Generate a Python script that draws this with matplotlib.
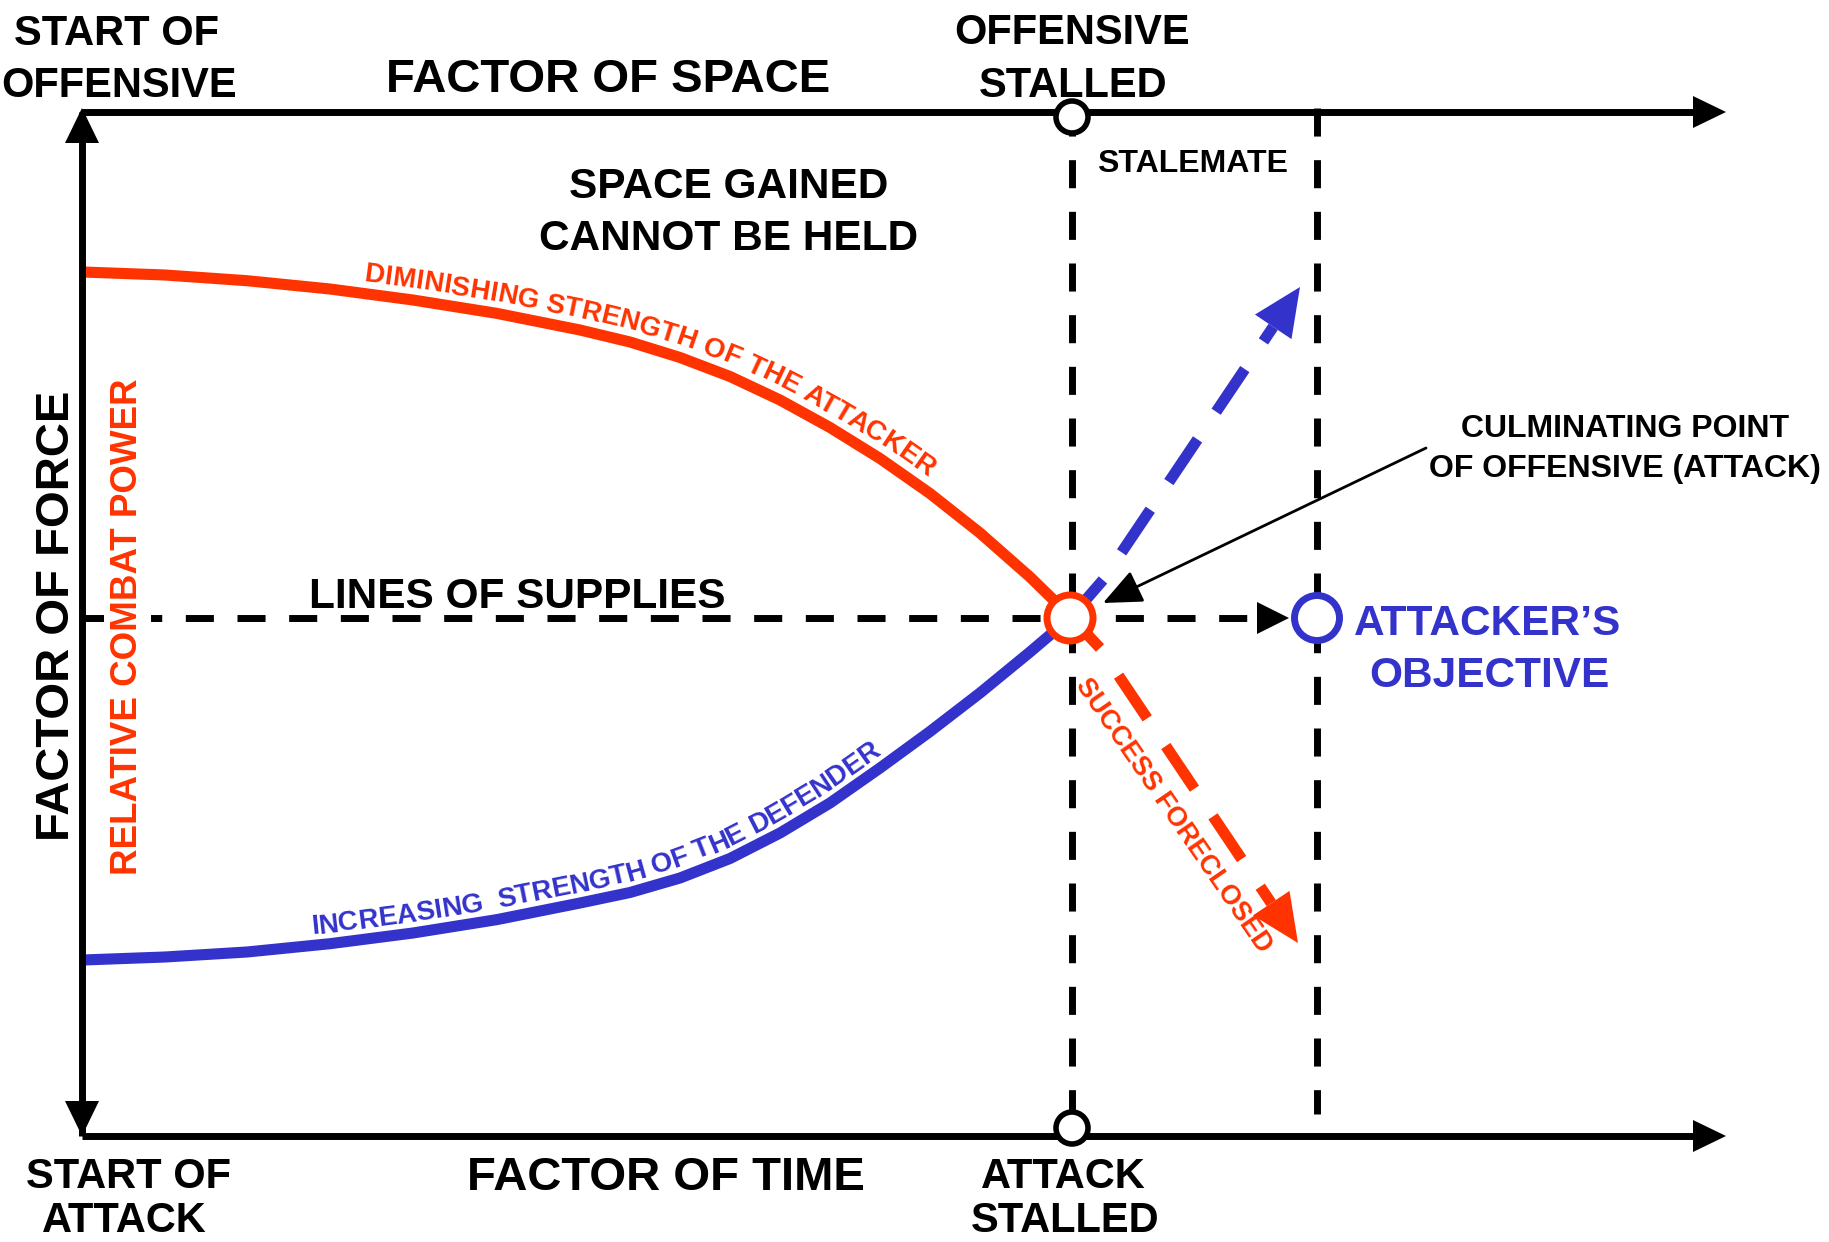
import numpy as np
import matplotlib
matplotlib.use("Agg")
import matplotlib.pyplot as plt
from matplotlib.patches import Circle, Polygon

RED, BLUE, INK = "#ff3300", "#3333cc", "#000000"
plt.rcParams.update({
    "font.family": ["Liberation Sans", "DejaVu Sans"],
    "font.weight": "bold",
    "lines.scale_dashes": False,
})

W, H = 1829, 1242

# ---- frame of the diagram (pixel coords) ----
X_LEFT, X_TIP = 82, 1726
Y_TOP, Y_BOT = 112, 1136
X_STALL, X_OBJ = 1072, 1317
Y_SUPPLY = 618
Y_OBJ_END = 1114

# ---- curves ----
red_x = [83, 165, 247, 330, 413, 497, 580, 630, 680, 730, 780, 830, 880, 930, 980, 1030, 1070, 1100]
red_y = [272, 275, 280.7, 289, 300, 313.4, 330, 342, 357.5, 376.5, 400, 427.5, 458.5, 493.5, 533, 577, 616, 648]
blue_x = [83, 165, 247, 330, 413, 497, 580, 630, 680, 730, 780, 830, 880, 930, 980, 1030, 1070, 1103]
blue_y = [960, 957, 952, 943.7, 933, 919.6, 903, 892.5, 878, 858.5, 833, 803, 768, 731.5, 693, 652, 618, 580]

# dashed outcome arrows: start -> tip
red_arrow = [(1100, 648), (1298, 943)]
blue_arrow = [(1103, 580), (1300, 287)]

red_label = "DIMINISHING STRENGTH OF THE ATTACKER"
blue_label = "INCREASING  STRENGTH OF THE DEFENDER"

fig = plt.figure(figsize=(W / 100, H / 100), dpi=100)
ax = fig.add_axes([0, 0, 1, 1])
ax.set_xlim(0, W); ax.set_ylim(H, 0)
ax.axis("off")


def head(tip, frm, length, half, color, z=6):
    tip = np.array(tip, float); frm = np.array(frm, float)
    u = (tip - frm) / np.hypot(*(tip - frm))
    n = np.array([-u[1], u[0]])
    base = tip - length * u
    ax.add_patch(Polygon([tip, base + half * n, base - half * n], closed=True,
                         color=color, lw=0, zorder=z))
    return base


def text_on_curve(xs, ys, label, x_start, offset, **kw):
    r = fig.canvas.get_renderer()
    xs = np.asarray(xs, float); ys = np.asarray(ys, float)
    cum = np.concatenate([[0], np.cumsum(np.hypot(np.diff(xs), np.diff(ys)))])
    s0 = np.interp(x_start, xs, cum)

    def width(t):
        tt = ax.text(0, 0, t, **kw)
        w = tt.get_window_extent(r).width
        tt.remove()
        return w

    for i, ch in enumerate(label):
        if ch == " ":
            continue
        s = s0 + width(label[:i + 1]) - width(ch) / 2
        x, y = np.interp(s, cum, xs), np.interp(s, cum, ys)
        dx = np.interp(s + 14, cum, xs) - np.interp(s - 14, cum, xs)
        dy = -(np.interp(s + 14, cum, ys) - np.interp(s - 14, cum, ys))
        n = np.hypot(dx, dy); dx, dy = dx / n, dy / n
        ang = np.degrees(np.arctan2(dy, dx))
        ax.text(x - dy * offset, y - dx * offset, ch, rotation=ang, rotation_mode="anchor",
                ha="center", va="baseline", **kw)


# ---- axes with arrows ----
AX_LW = 5
ax.plot([X_LEFT, X_LEFT], [Y_TOP, Y_BOT], color=INK, lw=AX_LW, solid_capstyle="butt", zorder=5)
head((X_LEFT, 108), (X_LEFT, 200), 35, 17, INK)
head((X_LEFT, Y_BOT), (X_LEFT, 1000), 35, 17, INK)
for yy in (Y_TOP, Y_BOT):
    b = head((X_TIP, yy), (1500, yy), 33, 16, INK)
    ax.plot([X_LEFT, b[0]], [yy, yy], color=INK, lw=AX_LW, solid_capstyle="butt", zorder=5)

# ---- black dashed guides ----
dash_k = dict(color=INK, lw=5, dashes=(20.2, 17), dash_capstyle="butt", zorder=3)
ax.plot([X_STALL, X_STALL], [108, Y_BOT], **dash_k)
ax.plot([X_OBJ, X_OBJ], [108, Y_OBJ_END], **dash_k)
b = head((1289, Y_SUPPLY), (1000, Y_SUPPLY), 32, 16, INK)
ax.plot([X_LEFT, b[0]], [Y_SUPPLY, Y_SUPPLY], **dash_k)

# ---- strength curves ----
ax.plot(red_x, red_y, color=RED, lw=8, solid_capstyle="butt", zorder=4)
ax.plot(blue_x, blue_y, color=BLUE, lw=8, solid_capstyle="butt", zorder=4)

for (p0, p1), col in ((red_arrow, RED), (blue_arrow, BLUE)):
    b = head(p1, p0, 48, 22, col)
    ax.plot([p0[0], b[0]], [p0[1], b[1]], color=col, lw=8, dash_capstyle="butt",
            linestyle=(37, (37, 24)), zorder=4)

# ---- circles ----
for cx, cy in ((X_STALL, 117), (X_STALL, 1128)):
    ax.add_patch(Circle((cx, cy), 16, facecolor="white", edgecolor=INK, lw=4, zorder=7))
ax.add_patch(Circle((1070, Y_SUPPLY), 23, facecolor="white", edgecolor=RED, lw=5, zorder=7))
ax.add_patch(Circle((X_OBJ, Y_SUPPLY), 22.5, facecolor="white", edgecolor=BLUE, lw=5, zorder=7))

# ---- culminating point pointer ----
ax.annotate("", xy=(1103, 603), xytext=(1426, 448),
            arrowprops=dict(arrowstyle="-|>,head_length=0.8,head_width=0.35", color=INK,
                            lw=2, mutation_scale=30, shrinkA=0, shrinkB=0), zorder=8)

# ---- labels ----
def lab(x, y, s, size, color=INK, **kw):
    ax.text(x, y, s, fontsize=size, color=color, ha="center", va="baseline", **kw)

lab(116, 45, "START OF", 30); lab(119, 97, "OFFENSIVE", 30)
lab(608, 92, "FACTOR OF SPACE", 34)
lab(1072, 44, "OFFENSIVE", 30); lab(1073, 97, "STALLED", 30)
lab(1193, 172, "STALEMATE", 23)
lab(729, 198, "SPACE GAINED", 30.5); lab(729, 250, "CANNOT BE HELD", 30.5)
lab(517, 608, "LINES OF SUPPLIES", 30.5)
lab(1625, 437, "CULMINATING POINT", 23); lab(1625, 477, "OF OFFENSIVE (ATTACK)", 23)
lab(1488, 635, "ATTACKER’S", 30.5, BLUE); lab(1489, 687, "OBJECTIVE", 30.5, BLUE)
lab(128, 1188, "START OF", 30); lab(124, 1232, "ATTACK", 30)
lab(666, 1190, "FACTOR OF TIME", 34)
lab(1063, 1188, "ATTACK", 30); lab(1065, 1232, "STALLED", 30)
ax.text(69, 616, "FACTOR OF FORCE", fontsize=34, color=INK, rotation=90,
        rotation_mode="anchor", ha="center", va="baseline")
ax.text(137, 627, "RELATIVE COMBAT POWER", fontsize=26.5, color=RED, rotation=90,
        rotation_mode="anchor", ha="center", va="baseline", zorder=6,
        bbox=dict(facecolor="white", edgecolor="none", pad=4))
ax.text(1168, 820, "SUCCESS FORECLOSED", fontsize=19.5, color=RED, rotation=-55.5,
        rotation_mode="anchor", ha="center", va="baseline")

text_on_curve(red_x, red_y, red_label, 362, 12, fontsize=20, color=RED)
text_on_curve(blue_x, blue_y, blue_label, 313, 11, fontsize=20, color=BLUE)

fig.savefig("out.png", dpi=100, facecolor="white")
